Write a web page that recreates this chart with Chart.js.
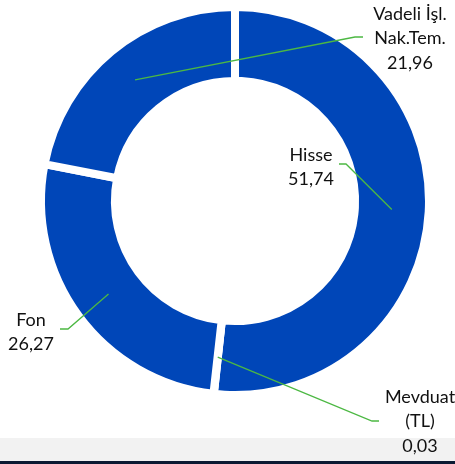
<!DOCTYPE html>
<html>

<head>
  <script src="https://cdn.jsdelivr.net/npm/chart.js@4.4.1/dist/chart.umd.min.js"></script>
  <style>
    html, body { margin: 0; padding: 0; background: #fff; }
  </style>
</head>

<body>
  <canvas id="myChart" width="455" height="464"></canvas>

  <script type="text/javascript">
    // data
    var categories = ['Hisse', 'Mevduat (TL)', 'Fon', 'Vadeli İşl. Nak.Tem.'];
    var labelLines = [['Hisse'], ['Mevduat', '(TL)'], ['Fon'], ['Vadeli İşl.', 'Nak.Tem.']];
    var values = [51.74, 0.03, 26.27, 21.96];

    // where each label sits: text centre x, first line y, elbow of the leader line
    var labelPos = [
      { x: 311, y: 155, elbow: [346, 164], end: [339, 164] },
      { x: 420, y: 397, elbow: [372, 421], end: [379, 421] },
      { x: 31, y: 320, elbow: [68, 329], end: [60, 329] },
      { x: 410, y: 14, elbow: [355, 37], end: [363, 37] }
    ];

    function fmt(v) {
      return v.toFixed(2).replace('.', ',');
    }

    var bandPlugin = {
      id: 'band',
      beforeDraw: function(chart) {
        var c = chart.ctx;
        c.save();
        c.fillStyle = '#f2f2f2';
        c.fillRect(0, 438, chart.width, 23);
        c.fillStyle = '#0b1a33';
        c.fillRect(0, 461, chart.width, 3);
        c.restore();
      }
    };

    var labelPlugin = {
      id: 'sliceLabels',
      afterDatasetsDraw: function(chart) {
        var c = chart.ctx;
        var arcs = chart.getDatasetMeta(0).data;
        c.save();
        arcs.forEach(function(arc, i) {
          var p = arc.tooltipPosition();
          var lp = labelPos[i];
          c.strokeStyle = '#4cb843';
          c.lineWidth = 1.3;
          c.beginPath();
          c.moveTo(p.x, p.y);
          c.lineTo(lp.elbow[0], lp.elbow[1]);
          c.lineTo(lp.end[0], lp.end[1]);
          c.stroke();

          var lines = labelLines[i].concat([fmt(values[i])]);
          c.fillStyle = '#111111';
          c.font = '18px Lato';
          c.textAlign = 'center';
          c.textBaseline = 'middle';
          lines.forEach(function(t, k) {
            c.fillText(t, lp.x, lp.y + k * 24.5);
          });
        });
        c.restore();
      }
    };

    var ctx = document.getElementById('myChart').getContext('2d');
    var chart = new Chart(ctx, {
      type: 'doughnut',
      data: {
        labels: categories,
        datasets: [{
          data: values,
          backgroundColor: '#0046b8',
          borderColor: '#ffffff',
          borderWidth: 8,
          hoverOffset: 0
        }]
      },
      options: {
        responsive: false,
        animation: false,
        cutout: '61.9%',
        layout: {
          padding: { left: 37, right: 22, top: 3, bottom: 65 }
        },
        plugins: {
          legend: { display: false },
          tooltip: { enabled: false }
        }
      },
      plugins: [bandPlugin, labelPlugin]
    });
  </script>
</body>

</html>
